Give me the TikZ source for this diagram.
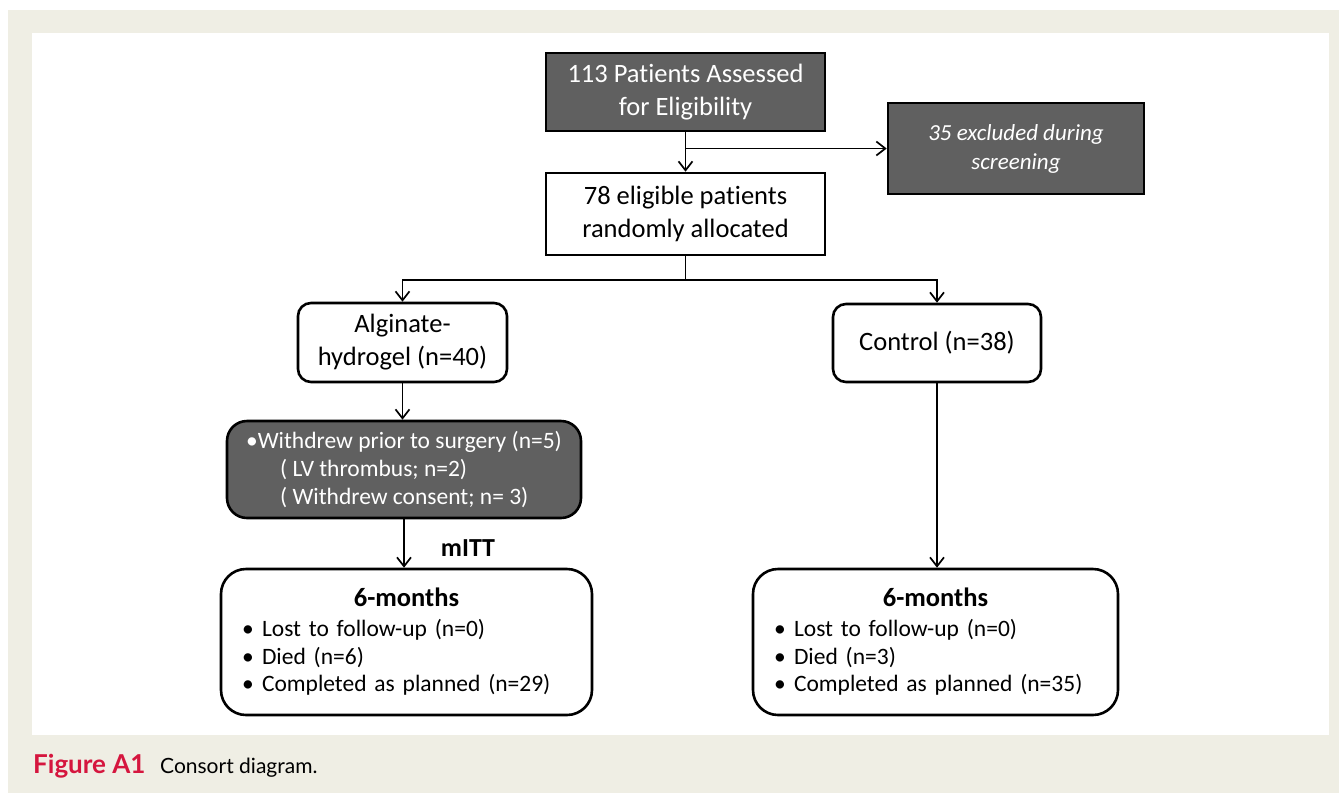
\documentclass[tikz,border=0pt]{standalone}
\usepackage{fontspec}
\setmainfont[RawFeature={-liga;-clig;-calt}]{Carlito}
\newfontfamily\capfont{Lato}
\usetikzlibrary{arrows.meta,calc}
\definecolor{panelbg}{RGB}{239,238,228}
\definecolor{boxgray}{RGB}{96,96,96}
\definecolor{figred}{RGB}{213,22,62}

\begin{document}
\begin{tikzpicture}[x=1pt,y=-1pt,
	box/.style={draw=black,line width=2.6pt,fill=white,align=center,inner sep=0pt,font=\fontsize{26.5}{33}\selectfont},
	darkbox/.style={box,fill=boxgray,text=white},
	sixbox/.style={box,rounded corners=25,minimum height=146,align=left,font=\fontsize{23.5}{27.5}\selectfont},
	arr/.style={line width=1.7pt,-{Straight Barb[length=9pt,width=14pt]}}]
				\useasboundingbox (0,0) rectangle (1339,793);
				\fill[panelbg] (8,10) rectangle (1339,793);
				\fill[white] (32,33) rectangle (1329,735);
				% boxes
				\node[darkbox,minimum width=279,minimum height=78] (assess) at (685.5,92) {113 Patients Assessed\\for Eligibility};
				\node[darkbox,minimum width=256,minimum height=91,font=\itshape\fontsize{23}{29}\selectfont] (excl) at (1016,148.5) {35 excluded during\\screening};
				\node[box,minimum width=279,minimum height=82] (alloc) at (685.5,214) {78 eligible patients\\randomly allocated};
				\node[box,rounded corners=13,minimum width=209,minimum height=79] (algi) at (402.5,342.5) {Alginate-\\hydrogel (n=40)};
				\node[box,rounded corners=13,minimum width=208,minimum height=78] (ctrl) at (937,343) {Control (n=38)};
				\node[darkbox,rounded corners=20,minimum width=354,minimum height=97,align=left,font=\fontsize{23.5}{28}\selectfont] (wdr) at (404,469.5) {\textbullet Withdrew prior to surgery (n=5)\\\hspace*{34pt}( LV thrombus; n=2)\\\hspace*{34pt}( Withdrew consent; n= 3)};
				\node[font=\bfseries\fontsize{26}{30}\selectfont] (mitt) at (468,548) {mITT};
				\node[sixbox,minimum width=371,text width=329] (lsix) at (406.5,642) {{\centering\bfseries\fontsize{26.5}{30}\selectfont 6-months\par}\vspace{2.5pt}
					\makebox[20pt][l]{\textbullet}Lost to follow-up (n=0)\\\makebox[20pt][l]{\textbullet}Died (n=6)\\\makebox[20pt][l]{\textbullet}Completed as planned (n=29)};
				\node[sixbox,minimum width=365,text width=323] (rsix) at (935.5,642) {{\centering\bfseries\fontsize{26.5}{30}\selectfont 6-months\par}\vspace{2.5pt}
					\makebox[20pt][l]{\textbullet}Lost to follow-up (n=0)\\\makebox[20pt][l]{\textbullet}Died (n=3)\\\makebox[20pt][l]{\textbullet}Completed as planned (n=35)};
				% connectors
				\coordinate (fork) at ($(alloc.south)+(0,24)$);
				\foreach \a/\b in {assess/alloc,algi/wdr,wdr/lsix,ctrl/rsix}{\draw[arr] (\a.south) -- (\a.south |- \b.north);}
				\draw[arr] (assess.south |- excl.west) -- (excl.west);
				\draw[line width=1.7pt] (alloc.south) -- (fork);
				\draw[arr] (fork) -| (algi.north);
				\draw[arr] (fork) -| (ctrl.north);
				% caption
				\node[anchor=base west,inner sep=0pt,text=figred,font=\capfont\bfseries\fontsize{26}{30}\selectfont] (fig) at (33,773) {Figure A1};
				\node[anchor=base west,inner sep=0pt,font=\capfont\fontsize{21}{25}\selectfont] (cap) at (160,773) {Consort diagram.};
			\end{tikzpicture}
\end{document}
